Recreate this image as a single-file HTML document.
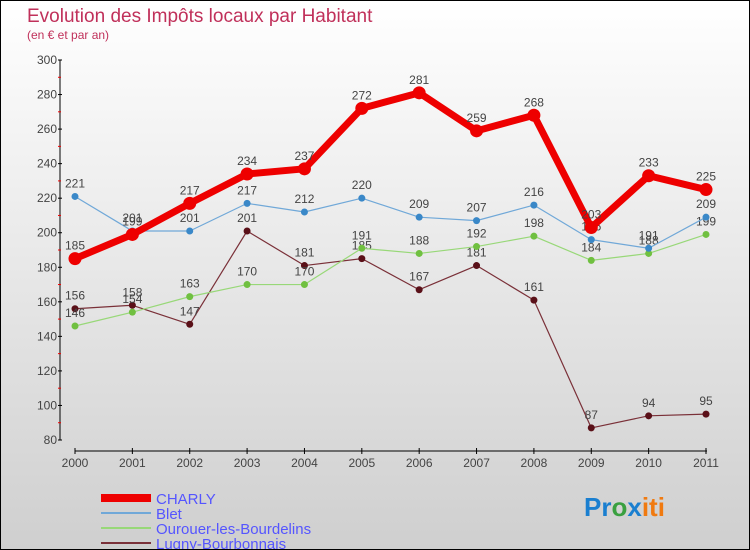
<!DOCTYPE html>
<html><head><meta charset="utf-8"><style>
body{margin:0}
#c{width:750px;height:550px;position:relative;box-sizing:border-box;border:1px solid #000;background:linear-gradient(#ffffff,#cfcfcf);font-family:"Liberation Sans",sans-serif;overflow:hidden}
</style></head><body>
<div id="c">
<svg id="s" width="748" height="548" xmlns="http://www.w3.org/2000/svg">
<text x="26" y="21" font-size="19" fill="#c0305a">Evolution des Impôts locaux par Habitant</text>
<text x="26" y="38" font-size="12" fill="#c0305a">(en € et par an)</text>
<g id="axes"></g><g id="series"></g>
<g id="legend"></g>
<text x="583" y="515" font-size="26" font-weight="bold"><tspan fill="#1a7fd0">Pr</tspan><tspan fill="#3aa040">o</tspan><tspan fill="#1a7fd0">x</tspan><tspan fill="#f07a10">iti</tspan></text>
</svg></div>
<script>
const years=["2000","2001","2002","2003","2004","2005","2006","2007","2008","2009","2010","2011"];
const yTicks=[80,100,120,140,160,180,200,220,240,260,280,300];
const charly=[185,199,217,234,237,272,281,259,268,203,233,225];
const blet=[221,201,201,217,212,220,209,207,216,196,191,209];
const ourouer=[146,154,163,170,170,191,188,192,198,184,188,199];
const lugny=[156,158,147,201,181,185,167,181,161,87,94,95];
const NS="http://www.w3.org/2000/svg";
const X=i=>74+i*(631/11);
const Y=v=>439-(v-80)*(380/220);
function mk(t,a,p){const e=document.createElementNS(NS,t);for(const k in a)e.setAttribute(k,a[k]);p.appendChild(e);return e;}
const ax=document.getElementById('axes');
let e=mk('line',{x1:59,y1:Y(300),x2:59,y2:Y(80),stroke:'#000'},ax);

yTicks.forEach((v,i)=>{mk('line',{x1:57,x2:61,y1:Y(v),y2:Y(v),stroke:'#000'},ax);
 if(i<yTicks.length-1)mk('line',{x1:57,x2:60,y1:Y(v+10),y2:Y(v+10),stroke:'#e00'},ax);
 const t=mk('text',{x:56,y:Y(v)+4,'font-size':12,'text-anchor':'end',fill:'#444'},ax);t.textContent=v;
 });
e=mk('line',{x1:74,y1:450,x2:706,y2:450,stroke:'#000'},ax);

years.forEach((y,i)=>{mk('line',{x1:X(i),x2:X(i),y1:447,y2:453,stroke:'#000'},ax);
 const t=mk('text',{x:X(i),y:466,'font-size':12,'text-anchor':'middle',fill:'#444'},ax);t.textContent=y;
 });
const series=[
 {n:'lugny',d:lugny,c:'#7a3038',m:'#5a1018',w:1.2,r:3.5,lab:'Lugny-Bourbonnais'},
 {n:'ourouer',d:ourouer,c:'#98d878',m:'#70c040',w:1.2,r:3.5,lab:'Ourouer-les-Bourdelins'},
 {n:'blet',d:blet,c:'#70a8d8',m:'#3a88c8',w:1.2,r:3.5,lab:'Blet'},
 {n:'charly',d:charly,c:'#ee0000',m:'#ee0000',w:7,r:6.5,lab:'CHARLY'}];
const sg=document.getElementById('series');
series.forEach(s=>{const g=mk('g',{},sg);
 
 const p=mk('polyline',{points:s.d.map((v,i)=>X(i)+','+Y(v)).join(' '),fill:'none',stroke:s.c,'stroke-width':s.w,'stroke-linejoin':'round'},g);
 
 s.d.forEach((v,i)=>{const c=mk('circle',{cx:X(i),cy:Y(v),r:s.r,fill:s.m},g);
  
  const t=mk('text',{x:X(i),y:Y(v)-9,'font-size':12,'text-anchor':'middle',fill:'#444'},g);t.textContent=v;
  });});
const lg=document.getElementById('legend');
[...series].reverse().forEach((s,i)=>{const y=497+i*15;
 const l=mk('line',{x1:100,x2:150,y1:y,y2:y,stroke:s.c,'stroke-width':s.n==='charly'?8:2},lg);
 
 const t=mk('text',{x:155,y:y+6,'font-size':15,fill:'#5555ff'},lg);t.textContent=s.lab;
 });
</script>
</body></html>
